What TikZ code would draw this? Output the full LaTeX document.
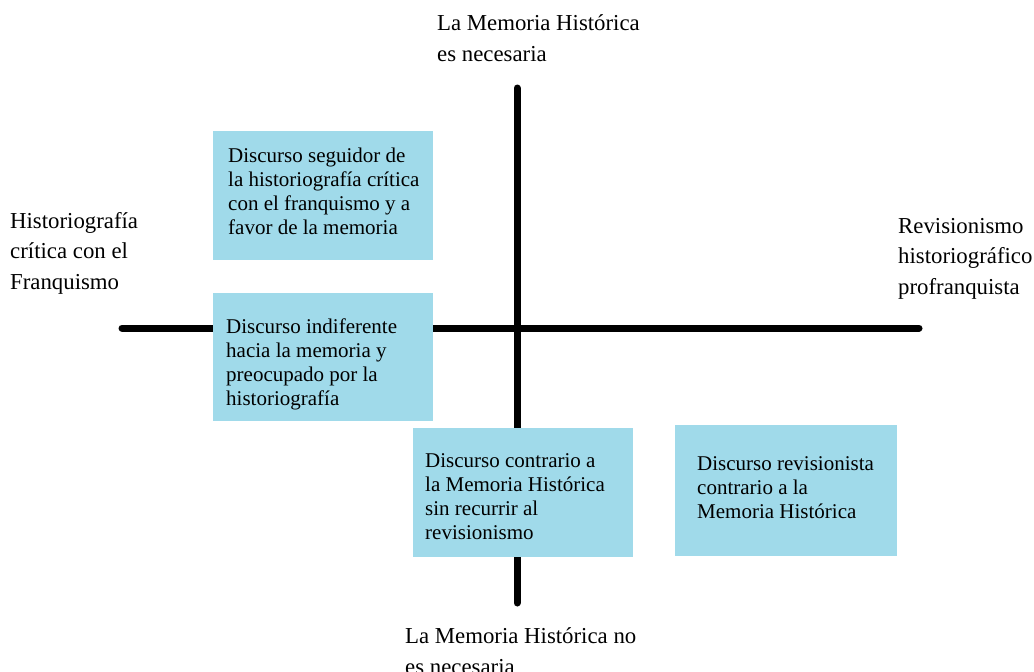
\documentclass[tikz,border=0pt]{standalone}
\usepackage{fontspec}
\setmainfont{Liberation Serif}
\usepackage{xcolor}
\definecolor{discblue}{RGB}{160,218,234}
\usepackage{tikz}
\usetikzlibrary{calc}
\newcommand{\widthdisc}{220}
\newcommand{\heightdisc}{129}
\tikzset{
    axis/.style={line width=7pt, line cap=round},
    disc/.style={anchor=north west, fill=discblue, inner sep=0pt, minimum width=\widthdisc pt, minimum height=\heightdisc pt},
    disctext/.style={anchor=base west, inner sep=0pt, align=left, font=\fontsize{21}{24}\selectfont},
    pole/.style={anchor=base west, inner sep=0pt, align=left, font=\fontsize{22.8}{30.5}\selectfont}
}

\begin{document}
\begin{tikzpicture}[x=1pt, y=-1pt]
    \useasboundingbox (0,0) rectangle (1034,672);

    \coordinate (N) at (517,88);
    \coordinate (S) at (517,603);
    \coordinate (W) at (122,328);
    \coordinate (E) at (919,328);

    \draw[axis]
        (N) -- (S)
        (W) -- (E);

    % base anchors sit on the last line
    \node[pole] (pole-N) at (437,61) {La Memoria Histórica\\es necesaria};
    \node[pole] (pole-S) at (405,674) {La Memoria Histórica no\\es necesaria};
    \node[pole] (pole-W) at (10,289) {Historiografía\\crítica con el\\Franquismo};
    \node[pole] (pole-E) at (898,294) {Revisionismo\\historiográfico\\profranquista};

    \node[disc] (seguidor) at (213,131) {};
    \node[disc, minimum height=128pt] (indiferente) at (213,293) {};
    \node[disc] (contrario) at (413,428) {};
    \node[disc, minimum width=222pt, minimum height=131pt] (revisionista) at (675,425) {};

    \node[disctext] (seguidor-text) at ($(seguidor.north west)+(15,103)$)
        {Discurso seguidor de\\la historiografía crítica\\con el franquismo y a\\favor de la memoria};
    \node[disctext] (indiferente-text) at ($(indiferente.north west)+(13,112)$)
        {Discurso indiferente\\hacia la memoria y\\preocupado por la\\historiografía};
    \node[disctext] (contrario-text) at ($(contrario.north west)+(12,111)$)
        {Discurso contrario a\\la Memoria Histórica\\sin recurrir al\\revisionismo};
    \node[disctext] (revisionista-text) at ($(revisionista.north west)+(22,93)$)
        {Discurso revisionista\\contrario a la\\Memoria Histórica};
\end{tikzpicture}
\end{document}
